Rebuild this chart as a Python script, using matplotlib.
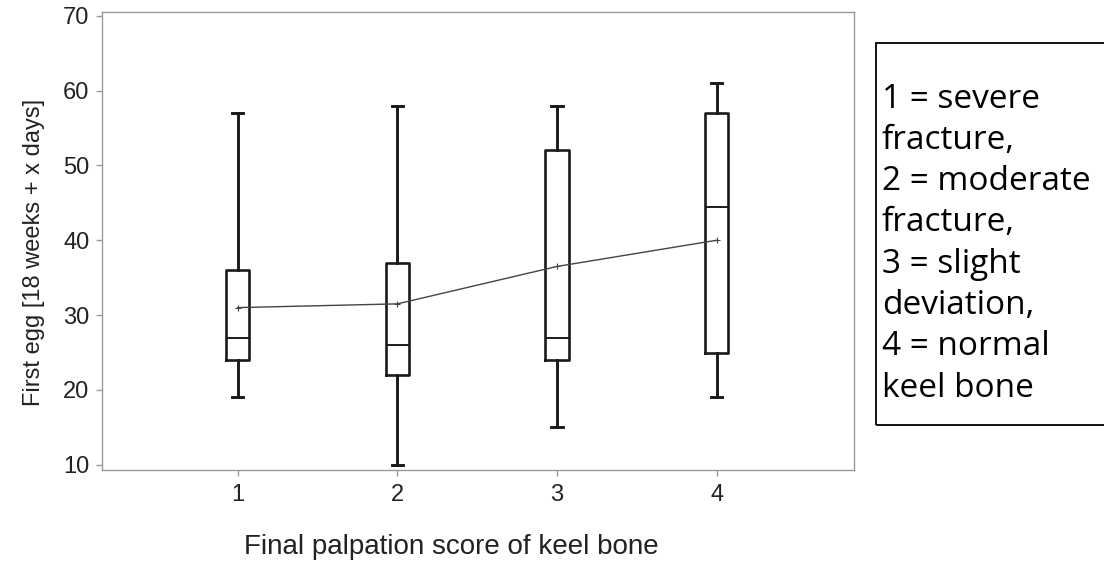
import matplotlib
matplotlib.use("Agg")
import matplotlib.pyplot as plt

categories = ["1", "2", "3", "4"]
whisker_low = [19, 10, 15, 19]
q1 = [24, 22, 24, 25]
median = [27, 26, 27, 44.5]
q3 = [36, 37, 52, 57]
whisker_high = [57, 58, 58, 61]
means = [31, 31.5, 36.5, 40]
y_ticks = [10, 20, 30, 40, 50, 60, 70]
legend_lines = ["1 = severe", "fracture,", "2 = moderate", "fracture,",
                "3 = slight", "deviation,", "4 = normal", "keel bone"]

plt.rcParams['font.family'] = ['Liberation Sans', 'DejaVu Sans']

fig = plt.figure(figsize=(11.04, 5.88), dpi=100)
ax = fig.add_axes([102/1104, 1 - 470/588, (854-102)/1104, (470-12)/588])

positions = list(range(1, len(categories) + 1))
stats = []
for i in range(len(categories)):
    stats.append(dict(whislo=whisker_low[i], q1=q1[i], med=median[i],
                      q3=q3[i], whishi=whisker_high[i], fliers=[], label=categories[i]))

ax.bxp(stats, positions=positions, widths=0.145, showfliers=False,
       boxprops=dict(color="#1a1a1a", linewidth=1.9),
       medianprops=dict(color="#1a1a1a", linewidth=1.4),
       whiskerprops=dict(color="#1a1a1a", linewidth=2.1),
       capprops=dict(color="#1a1a1a", linewidth=2.1),
       capwidths=0.07)

ax.plot(positions, means, color="#444444", linewidth=1.0, marker="+",
        markersize=5, markeredgewidth=0.8, zorder=3)

ax.set_xlim(0.15, 4.86)
ax.set_ylim(9.3, 70.5)
ax.set_yticks(y_ticks)
ax.set_xticks(positions)
ax.set_xticklabels(categories)
for s in ax.spines.values():
    s.set_color("#999999")
    s.set_linewidth(1.0)
ax.tick_params(axis="both", colors="#999999", labelcolor="#222222",
               labelsize=17, length=4, width=1.0)
ax.tick_params(axis="x", pad=6)
ax.tick_params(axis="y", pad=5)
ax.set_ylabel("First egg [18 weeks + x days]", fontsize=17, color="#222222")
ax.yaxis.set_label_coords(-0.076, 0.476)
fig.text(451/1104, 1 - 547/588, "Final palpation score of keel bone",
         ha="center", va="center", fontsize=20, color="#222222")

# Legend box
fig.patches.append(plt.Rectangle((876/1104, 1 - 425/588), (1104-876)/1104 + 0.01,
                                 (425-43)/588, transform=fig.transFigure,
                                 fill=False, edgecolor="black", linewidth=1.3))
for k, line in enumerate(legend_lines):
    fig.text(882/1104, 1 - (99 + k*41.3)/588, line, ha="left", va="center",
             fontsize=24, family=["Open Sans", "DejaVu Sans"], color="black")

fig.savefig("out.png", dpi=100)
